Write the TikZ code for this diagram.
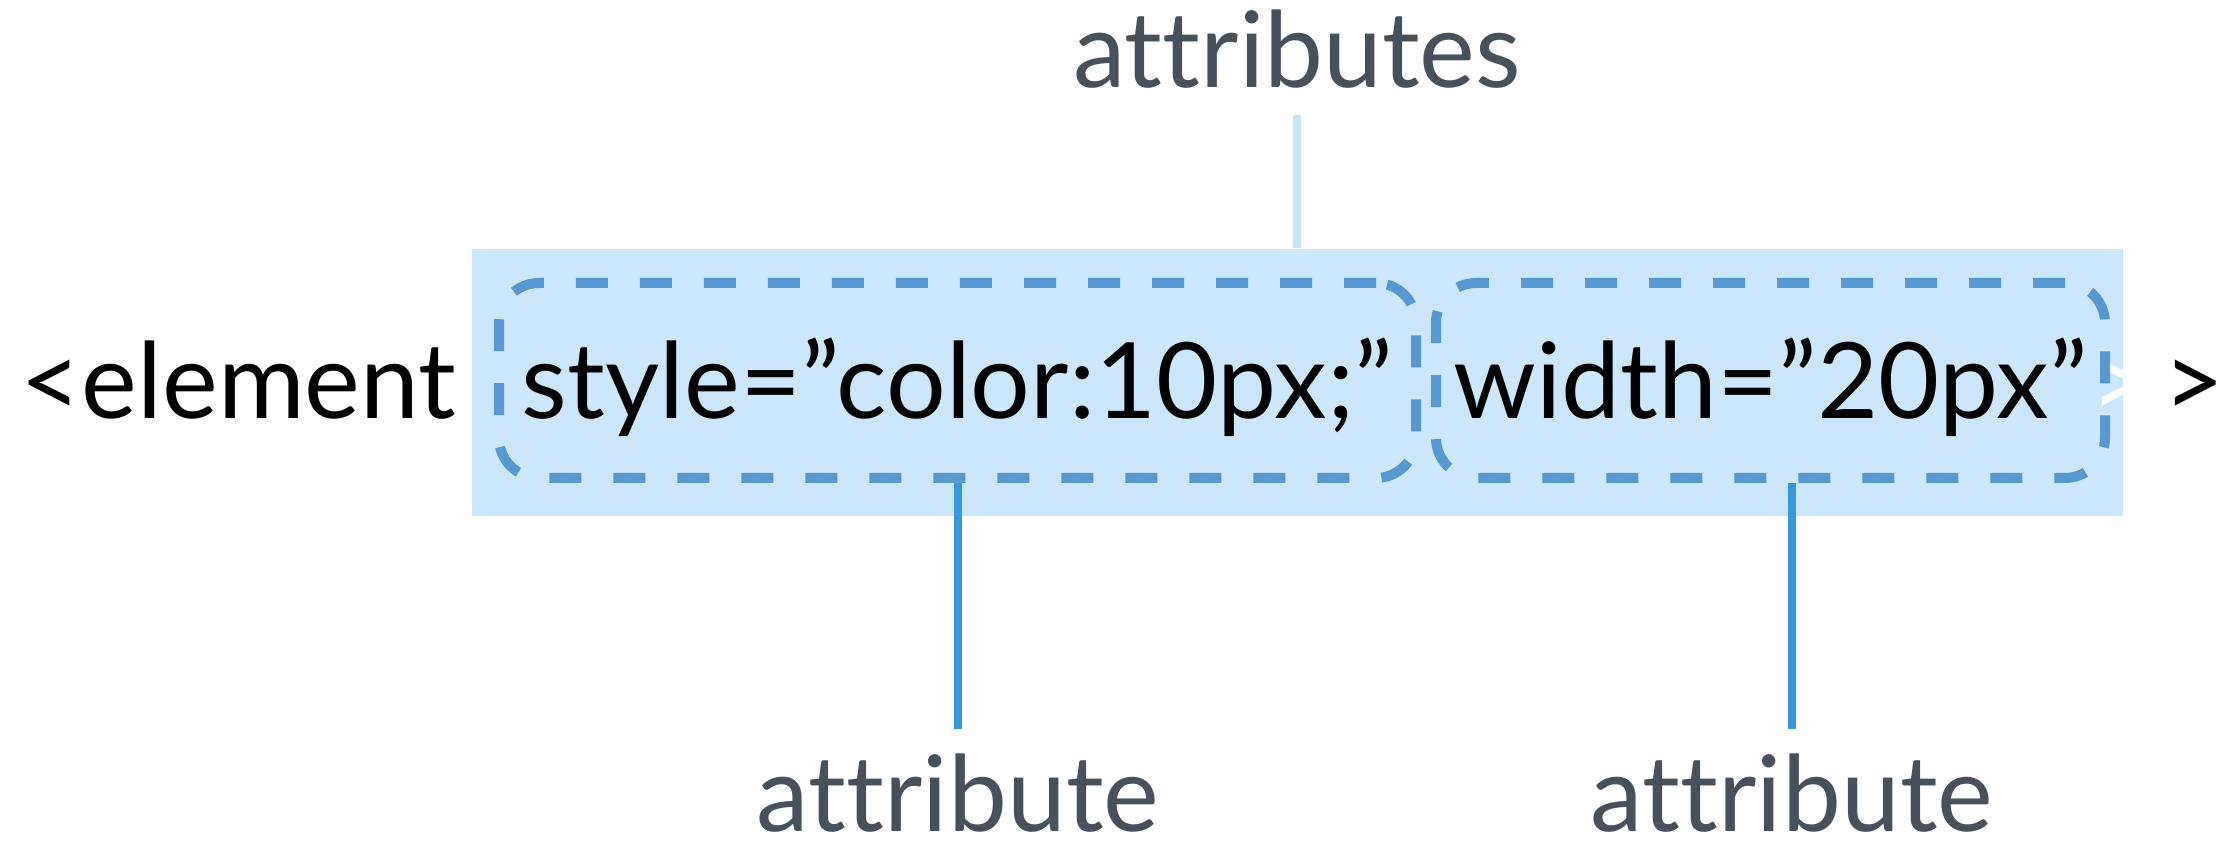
\documentclass[tikz,border=0pt]{standalone}
\usepackage{fontspec}
\setmainfont{Lato}[Ligatures={NoCommon}]
\usepackage{tikz}
\usetikzlibrary{positioning}
\usepackage{xcolor}
\definecolor{tagfill}{RGB}{204,231,252}
\definecolor{tagdash}{RGB}{88,152,208}
\definecolor{tagline}{RGB}{52,152,218}
\definecolor{taglight}{RGB}{196,230,250}
\definecolor{taggray}{RGB}{72,80,90}
\tikzstyle{connector} = [line width=0.08cm, color=tagline]
\tikzstyle{attrbox} = [rectangle, rounded corners=0.4cm, draw=tagdash, line width=0.1cm, dash pattern=on 0.32cm off 0.32cm, minimum height=1.95cm, inner sep=0pt]

\begin{document}
\begin{tikzpicture}[
    tagtext/.style={font=\fontsize{30}{36}\selectfont, inner sep=0pt},
    attrlabel/.style={font=\fontsize{30}{36}\selectfont, text=taggray, inner sep=0pt}]
\useasboundingbox (0,0) rectangle (22.36,8.55);

% Highlighted attribute area
\node[fill=tagfill, minimum width=16.51cm, minimum height=2.67cm, inner sep=0pt] (attrs) at (12.975,4.725) {};
\node[tagtext, anchor=base west, text=white] (hidden) at (20.90,4.36) {>};

% Single attributes
\node[attrbox, minimum width=9.17cm] (attrA) at (9.575,4.745) {};
\node[attrbox, minimum width=6.69cm] (attrB) at (17.705,4.745) {};

% Tag text
\node[tagtext, anchor=base west] (open) at (0.20,4.36) {<element};
\node[tagtext, anchor=base] (styletxt) at (attrA.center |- open.base) {style=”color:10px;”};
\node[tagtext, anchor=base] (widthtxt) at (attrB.center |- open.base) {width=”20px”};
\node[tagtext, anchor=base west] (close) at (21.63,4.36) {>};

% Labels
\node[attrlabel, anchor=base] (allattrs) at (12.97,7.67) {attributes};
\node[attrlabel, anchor=base] (attrAlabel) at (9.58,0.23) {attribute};
\node[attrlabel, anchor=base] (attrBlabel) at (17.92,0.23) {attribute};

% Connections
\draw[connector, color=taglight, shorten <=0.25cm] (allattrs.south) -- (allattrs.south |- attrs.north);
\draw[connector, shorten <=0.25cm] (attrAlabel.north) -- (attrAlabel.north |- attrA.south);
\draw[connector, shorten <=0.25cm] (attrBlabel.north) -- (attrBlabel.north |- attrB.south);
\end{tikzpicture}
\end{document}
